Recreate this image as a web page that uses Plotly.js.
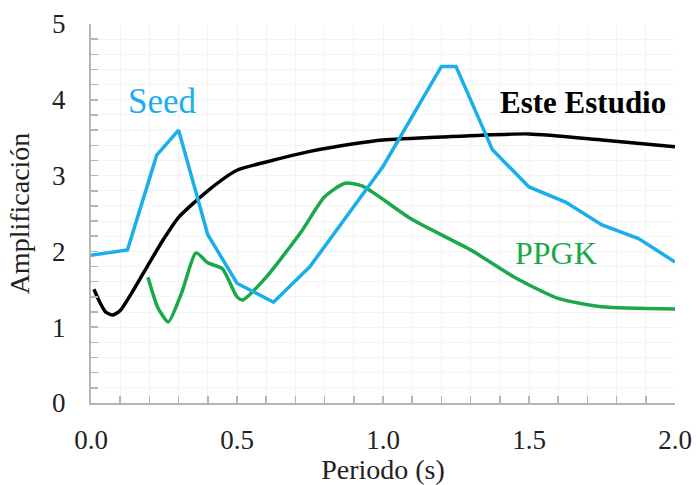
<!DOCTYPE html>
<html>
<head>
<meta charset="utf-8">
<script src="https://cdn.plot.ly/plotly-3.0.1.min.js"></script>
<style>html,body{margin:0;padding:0;background:#fff;}</style>
</head>
<body>
<div id="chart" style="width:696px;height:485px;"></div>
<script>
// Este Estudio (black)
var esteX = [0.01, 0.03, 0.05, 0.075, 0.1, 0.15, 0.2, 0.25, 0.3, 0.4, 0.5, 0.6, 0.75, 0.9, 1.0, 1.2, 1.5, 1.75, 2.0];
var esteY = [1.50, 1.33, 1.20, 1.16, 1.22, 1.52, 1.85, 2.17, 2.45, 2.80, 3.07, 3.18, 3.32, 3.42, 3.47, 3.51, 3.55, 3.47, 3.38];
// Seed (blue)
var seedX = [0, 0.125, 0.225, 0.3, 0.4, 0.5, 0.625, 0.75, 1.0, 1.2, 1.25, 1.375, 1.5, 1.625, 1.75, 1.875, 2.0];
var seedY = [1.95, 2.02, 3.27, 3.60, 2.22, 1.58, 1.33, 1.80, 3.12, 4.44, 4.44, 3.34, 2.85, 2.65, 2.35, 2.17, 1.86];
// PPGK (green)
var ppgkX = [0.195, 0.23, 0.265, 0.31, 0.36, 0.40, 0.45, 0.50, 0.52, 0.60, 0.72, 0.80, 0.87, 0.93, 1.1, 1.3, 1.45, 1.6, 1.75, 2.0];
var ppgkY = [1.66, 1.25, 1.07, 1.45, 1.98, 1.85, 1.77, 1.40, 1.36, 1.66, 2.26, 2.72, 2.90, 2.86, 2.42, 2.02, 1.66, 1.38, 1.27, 1.24];

var xTicks = [0, 0.5, 1.0, 1.5, 2.0];
var xTickText = ['0.0', '0.5', '1.0', '1.5', '2.0'];
var yTicks = [0, 1, 2, 3, 4, 5];

var font = '"Liberation Serif"';
var blue = '#1aaeea';
var green = '#1ba84a';

var traces = [
  {x: esteX, y: esteY, mode: 'lines', line: {color: '#000', width: 3.5, shape: 'spline', smoothing: 0.6}, name: 'Este Estudio'},
  {x: ppgkX, y: ppgkY, mode: 'lines', line: {color: green, width: 3.5, shape: 'spline', smoothing: 0.6}, name: 'PPGK'},
  {x: seedX, y: seedY, mode: 'lines', line: {color: blue, width: 3.5}, name: 'Seed'}
];

var axCol = '#b5b5b5';
var layout = {
  width: 696, height: 485,
  margin: {l: 91, r: 21, t: 24, b: 82},
  paper_bgcolor: '#fff', plot_bgcolor: '#fff',
  showlegend: false,
  font: {family: font, color: '#111'},
  xaxis: {
    range: [0, 2], tickvals: xTicks, ticktext: xTickText,
    showline: true, linecolor: axCol, linewidth: 2,
    ticks: 'inside', ticklen: 7, tickcolor: axCol, tickwidth: 1.5,
    minor: {dtick: 0.1, ticks: 'inside', ticklen: 7, tickcolor: axCol, showgrid: true, gridcolor: '#f4f4f4'},
    showgrid: true, gridcolor: '#f4f4f4', zeroline: false,
    tickfont: {family: font, size: 27, color: '#222'},
    ticklabelstandoff: 12,
    title: {text: 'Periodo (s)', font: {family: font, size: 28, color: '#222'}, standoff: 2}
  },
  yaxis: {
    range: [0, 5], tickvals: yTicks,
    showline: true, linecolor: axCol, linewidth: 2,
    ticks: 'inside', ticklen: 7, tickcolor: axCol, tickwidth: 1.5,
    minor: {dtick: 0.2, ticks: 'inside', ticklen: 7, tickcolor: axCol, showgrid: true, gridcolor: '#f4f4f4'},
    showgrid: true, gridcolor: '#f4f4f4', zeroline: false,
    tickfont: {family: font, size: 27, color: '#222'},
    ticklabelstandoff: 18,
    title: {text: 'Amplificación', font: {family: font, size: 28, color: '#222'}, standoff: 14}
  },
  annotations: [
    {x: 0.244, y: 3.98, xref: 'x', yref: 'y', text: 'Seed', showarrow: false, font: {family: font, size: 35, color: blue}},
    {x: 1.685, y: 3.97, xref: 'x', yref: 'y', text: '<b>Este Estudio</b>', showarrow: false, font: {family: font, size: 31, color: '#000'}},
    {x: 1.593, y: 1.98, xref: 'x', yref: 'y', text: 'PPGK', showarrow: false, font: {family: font, size: 32, color: green}}
  ]
};

Plotly.newPlot('chart', traces, layout, {displayModeBar: false, staticPlot: true});
</script>
</body>
</html>
